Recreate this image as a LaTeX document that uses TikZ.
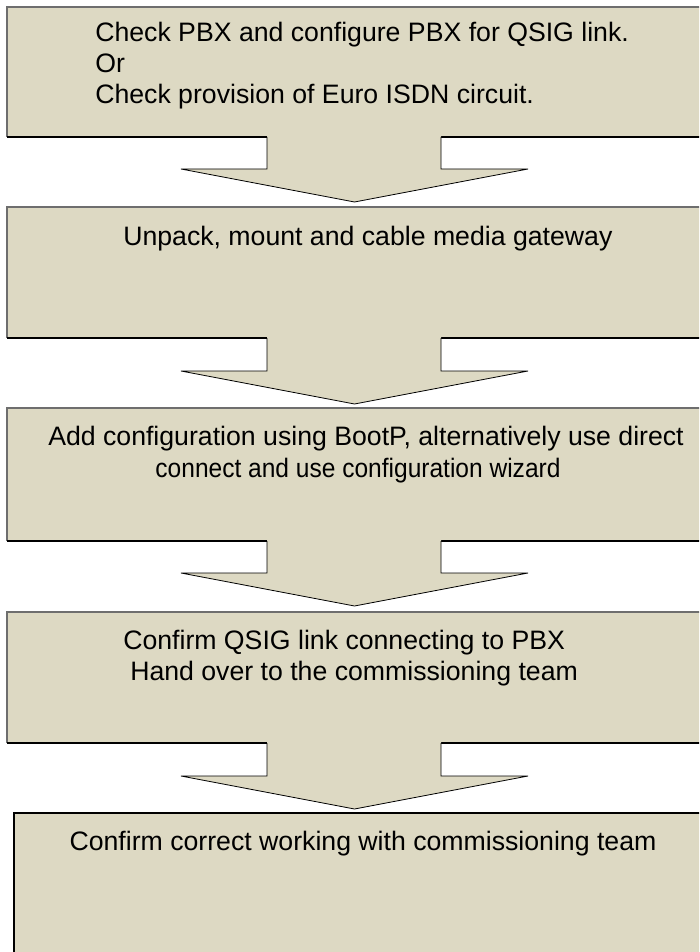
\documentclass[tikz,border=0pt]{standalone}
\usepackage{fontspec}
\setmainfont{Liberation Sans}
\definecolor{boxfill}{HTML}{DDD9C3}
\definecolor{boxline}{HTML}{6E6E6E}
\begin{document}
\begin{tikzpicture}[x=0.75pt,y=-0.75pt,
  txt/.style={inner sep=0pt, font=\fontsize{20}{23}\selectfont},
  boxbody/.style={fill=boxfill},
  boxedge/.style={draw=boxline, line width=1.3pt},
  boxbottom/.style={draw=black, line width=0.8pt},
  arrowbody/.style={fill=boxfill},
  arrowedge/.style={draw=black, line width=0.6pt, line join=miter}]
\useasboundingbox (0,0) rectangle (699,952);
\clip (0,0) rectangle (699,952);
% box 1
\fill[boxbody] (7,7) rectangle (712,137);
\draw[boxedge] (712,7) -- (7,7) -- (7,137);
\draw[boxbottom] (7,137) -- (712,137);
% box 2
\fill[boxbody] (7,207) rectangle (712,338);
\draw[boxedge] (712,207) -- (7,207) -- (7,338);
\draw[boxbottom] (7,338) -- (712,338);
% box 3
\fill[boxbody] (7,408) rectangle (712,541);
\draw[boxedge] (712,408) -- (7,408) -- (7,541);
\draw[boxbottom] (7,541) -- (712,541);
% box 4
\fill[boxbody] (7,612) rectangle (712,743);
\draw[boxedge] (712,612) -- (7,612) -- (7,743);
\draw[boxbottom] (7,743) -- (712,743);
% box 5
\fill[boxbody] (14,813) rectangle (712,960);
\draw[draw=black, line width=1.5pt] (712,813) -- (14,813) -- (14,960);
% arrows
\foreach \b/\s/\t in {137/169/202, 338/371/404, 541/573/606, 743/776/809}{
  \fill[arrowbody] (267,\b-4) -- (267,\s) -- (181,\s) -- (354.5,\t) -- (528,\s) -- (441,\s) -- (441,\b-4) -- cycle;
  \draw[arrowedge] (267,\b) -- (267,\s) -- (181,\s) -- (354.5,\t) -- (528,\s) -- (441,\s) -- (441,\b);
}
% texts
\node[txt, anchor=base west] (t1a) at (95,42) {Check PBX and configure PBX for QSIG link.};
\node[txt, anchor=base west] (t1b) at (95,73) {Or};
\node[txt, anchor=base west] (t1c) at (95,104) {Check provision of Euro ISDN circuit.};
\node[txt, anchor=base west] (t2) at (123,246) {Unpack, mount and cable media gateway};
\node[txt, anchor=base] (t3a) at (366,445) {Add configuration using BootP, alternatively use direct};
\node[txt, anchor=base, xscale=0.92, transform shape] (t3b) at (358,477) {connect and use configuration wizard};
\node[txt, anchor=base west] (t4a) at (123,649) {Confirm QSIG link connecting to PBX};
\node[txt, anchor=base west] (t4b) at (130,680) {Hand over to the commissioning team};
\node[txt, anchor=base] (t5) at (363,850) {Confirm correct working with commissioning team};
\end{tikzpicture}
\end{document}
